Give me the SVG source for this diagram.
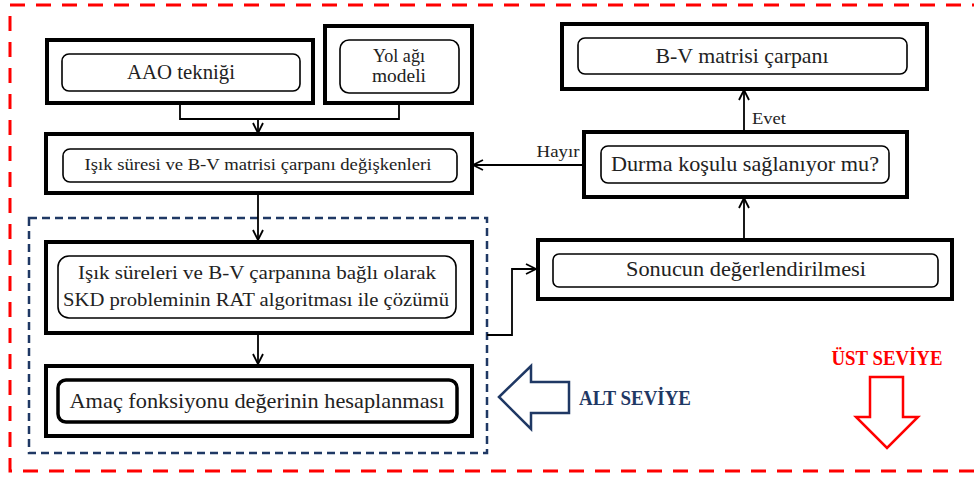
<svg xmlns="http://www.w3.org/2000/svg" width="974" height="477" viewBox="0 0 974 477">
<defs>
<style>
.outer{fill:#fff;stroke:#000;stroke-width:4}
.inner{fill:#fff;stroke:#000;stroke-width:1.6}
.t{font-family:"Liberation Serif","DejaVu Serif",serif;fill:#222;text-anchor:middle}
.c{fill:none;stroke:#000;stroke-width:1.8}
</style>
<marker id="ah" viewBox="0 0 12 12" refX="11" refY="6" markerWidth="12" markerHeight="12" markerUnits="userSpaceOnUse" orient="auto">
<path d="M1,1 L11,6 L1,11" fill="none" stroke="#000" stroke-width="1.8"/>
</marker>
</defs>
<rect x="0" y="0" width="974" height="477" fill="#fff"/>
<rect id="ust-frame" x="10" y="5" width="990" height="466" fill="none" stroke="#ff0000" stroke-width="3" stroke-dasharray="15 11"/>
<rect id="alt-frame" x="29" y="218" width="458" height="235" fill="none" stroke="#1f3864" stroke-width="2.5" stroke-dasharray="8 5"/>

<g id="connectors">
<path class="c" d="M180,103 V119 H399 V103"/>
<path class="c" d="M258,119 V133" marker-end="url(#ah)"/>
<path class="c" d="M258,193 V240" marker-end="url(#ah)"/>
<path class="c" d="M258,333 V364" marker-end="url(#ah)"/>
<path class="c" d="M487,335 H512 V269 H536" marker-end="url(#ah)"/>
<path class="c" d="M744,240 V198" marker-end="url(#ah)"/>
<path class="c" d="M744,132 V90" marker-end="url(#ah)"/>
<path class="c" d="M584,165 H473" marker-end="url(#ah)"/>
<text class="t" x="558" y="157" font-size="17" textLength="43" lengthAdjust="spacingAndGlyphs">Hayır</text>
<text class="t" x="769" y="124" font-size="17" textLength="34" lengthAdjust="spacingAndGlyphs">Evet</text>
</g>

<g id="aao">
<rect class="outer" x="47" y="40" width="266" height="63"/>
<rect class="inner" x="62" y="54" width="238" height="37" rx="7"/>
<text class="t" x="181" y="79" font-size="21" textLength="108" lengthAdjust="spacingAndGlyphs">AAO tekniği</text>
</g>
<g id="yol">
<rect class="outer" x="325" y="26" width="147" height="77"/>
<rect class="inner" x="340" y="40" width="119" height="53" rx="9"/>
<text class="t" x="399" y="62" font-size="18" textLength="52" lengthAdjust="spacingAndGlyphs">Yol ağı</text>
<text class="t" x="399" y="82" font-size="18" textLength="54" lengthAdjust="spacingAndGlyphs">modeli</text>
</g>
<g id="isik">
<rect class="outer" x="46" y="134" width="426" height="59"/>
<rect class="inner" x="63" y="149" width="394" height="33" rx="7"/>
<text class="t" x="258" y="170" font-size="17.5" textLength="347" lengthAdjust="spacingAndGlyphs">Işık süresi ve B-V matrisi çarpanı değişkenleri</text>
</g>
<g id="rat">
<rect class="outer" x="46" y="242" width="426" height="91"/>
<rect class="inner" x="58" y="256" width="398" height="62" rx="11"/>
<text class="t" x="257" y="279" font-size="19.5" textLength="358" lengthAdjust="spacingAndGlyphs">Işık süreleri ve B-V çarpanına bağlı olarak</text>
<text class="t" x="256" y="306" font-size="19.5" textLength="386" lengthAdjust="spacingAndGlyphs">SKD probleminin RAT algoritması ile çözümü</text>
</g>
<g id="amac">
<rect class="outer" x="46" y="366" width="426" height="70"/>
<rect x="58" y="380" width="399" height="42" rx="8" fill="#fff" stroke="#000" stroke-width="3.5"/>
<text class="t" x="257" y="408" font-size="21" textLength="375" lengthAdjust="spacingAndGlyphs">Amaç fonksiyonu değerinin hesaplanması</text>
</g>
<g id="sonuc">
<rect class="outer" x="538" y="240" width="414" height="59"/>
<rect class="inner" x="553" y="254" width="385" height="33" rx="6"/>
<text class="t" x="746" y="276" font-size="20.5" textLength="240" lengthAdjust="spacingAndGlyphs">Sonucun değerlendirilmesi</text>
</g>
<g id="durma">
<rect class="outer" x="584" y="132" width="323" height="65"/>
<rect class="inner" x="601" y="146" width="288" height="37" rx="7"/>
<text class="t" x="745" y="171" font-size="22" textLength="268" lengthAdjust="spacingAndGlyphs">Durma koşulu sağlanıyor mu?</text>
</g>
<g id="bv">
<rect class="outer" x="562" y="24" width="365" height="65"/>
<rect class="inner" x="578" y="38" width="329" height="36" rx="7"/>
<text class="t" x="742" y="63" font-size="21" textLength="173" lengthAdjust="spacingAndGlyphs">B-V matrisi çarpanı</text>
</g>

<g id="alt-seviye">
<path d="M499,397 L531,366 L531,382 L569,382 L569,413 L531,413 L531,429 Z" fill="#fff" stroke="#1f3864" stroke-width="2.5"/>
<text x="635" y="405" font-family="'Liberation Serif','DejaVu Serif',serif" font-weight="bold" font-size="20" fill="#1f3864" text-anchor="middle" textLength="112" lengthAdjust="spacingAndGlyphs">ALT SEVİYE</text>
</g>
<g id="ust-seviye">
<text x="887" y="365" font-family="'Liberation Serif','DejaVu Serif',serif" font-weight="bold" font-size="20" fill="#ff0000" text-anchor="middle" textLength="111" lengthAdjust="spacingAndGlyphs">ÜST SEVİYE</text>
<path d="M870,377 L903,377 L903,417 L918,417 L887,448 L856,417 L870,417 Z" fill="#fff" stroke="#ff0000" stroke-width="2.5"/>
</g>
</svg>
